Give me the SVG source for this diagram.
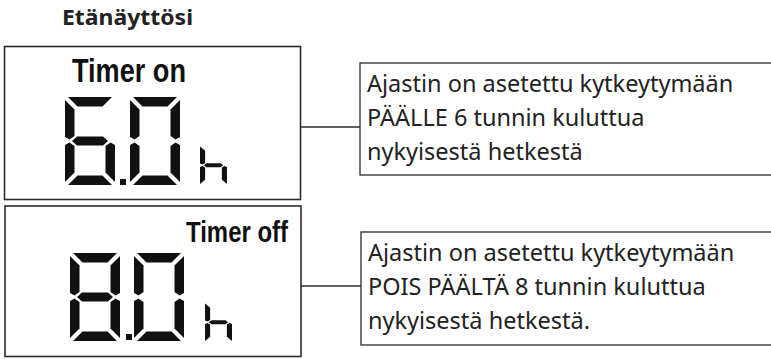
<svg xmlns="http://www.w3.org/2000/svg" xmlns:xlink="http://www.w3.org/1999/xlink" width="771" height="359" viewBox="0 0 771 359">
<style>
.box{fill:#fff;stroke:#2b2b2b;stroke-width:1.6}
.tbox{fill:#fff;stroke:#3a3a3a;stroke-width:1.4}
.conn{stroke:#2b2b2b;stroke-width:1.4;fill:none}
.seg{fill:#111}
.desc{font-family:"Noto Sans","Open Sans",sans-serif;font-size:23.5px;fill:#222}
.title{font-family:"Noto Sans","DejaVu Sans",sans-serif;font-size:22px;font-weight:bold;fill:#222}
.lcd{font-family:"Liberation Sans Narrow","Liberation Sans",Arial,sans-serif;font-weight:bold;fill:#111}
</style>
<defs>
<polygon id="sa" points="3,0 47,0 37.5,9.5 12.5,9.5"/>
<polygon id="sb" points="50,3 50,40 45.5,42.5 40.5,39 40.5,12.5"/>
<polygon id="sc" points="50,48 50,85 40.5,75.5 40.5,49 45.5,45.5"/>
<polygon id="sd" points="3,88 12.5,78.5 37.5,78.5 47,88"/>
<polygon id="se" points="0,48 4.5,45.5 9.5,49 9.5,75.5 0,85"/>
<polygon id="sf" points="0,3 9.5,12.5 9.5,39 4.5,42.5 0,40"/>
<polygon id="sg" points="7,44 12,39.5 38,39.5 43,44 38,48.5 12,48.5"/>
<g id="d0"><use href="#sa"/><use href="#sb"/><use href="#sc"/><use href="#sd"/><use href="#se"/><use href="#sf"/></g>
<g id="d6"><use href="#sa"/><use href="#sc"/><use href="#sd"/><use href="#se"/><use href="#sf"/><use href="#sg"/></g>
<g id="d8"><use href="#sa"/><use href="#sb"/><use href="#sc"/><use href="#sd"/><use href="#se"/><use href="#sf"/><use href="#sg"/></g>
<g id="dh"><use href="#sc"/><use href="#se"/><use href="#sf"/><use href="#sg"/></g>
</defs>

<text class="title" x="62" y="25" textLength="131" lengthAdjust="spacingAndGlyphs">Etänäyttösi</text>

<g id="connectors">
<line class="conn" x1="300" y1="127" x2="360" y2="127"/>
<line class="conn" x1="301" y1="286" x2="361" y2="286"/>
</g>

<g id="display-on">
<rect class="box" x="4.5" y="46.5" width="296" height="153"/>
<text class="lcd" x="72" y="82" font-size="34" textLength="114" lengthAdjust="spacingAndGlyphs">Timer on</text>
<g class="seg">
<use href="#d6" transform="translate(65,97)"/>
<rect x="120" y="179" width="6" height="6"/>
<use href="#d0" transform="translate(130,97)"/>
<use href="#dh" transform="translate(200,145) scale(0.54,0.46)"/>
</g>
</g>

<g id="display-off">
<rect class="box" x="5" y="206" width="296" height="150.5"/>
<text class="lcd" x="186" y="242" font-size="30" textLength="102" lengthAdjust="spacingAndGlyphs">Timer off</text>
<g class="seg">
<use href="#d8" transform="translate(70,253)"/>
<rect x="126" y="334" width="6" height="6"/>
<use href="#d0" transform="translate(134,253)"/>
<use href="#dh" transform="translate(205,302) scale(0.54,0.46)"/>
</g>
</g>

<g id="desc-on">
<rect class="tbox" x="360" y="63" width="430" height="112"/>
<text class="desc" x="367" y="92">Ajastin on asetettu kytkeytymään</text>
<text class="desc" x="367" y="126">PÄÄLLE 6 tunnin kuluttua</text>
<text class="desc" x="367" y="160">nykyisestä hetkestä</text>
</g>

<g id="desc-off">
<rect class="tbox" x="361" y="232" width="430" height="113"/>
<text class="desc" x="368" y="261">Ajastin on asetettu kytkeytymään</text>
<text class="desc" x="368" y="295">POIS PÄÄLTÄ 8 tunnin kuluttua</text>
<text class="desc" x="368" y="329">nykyisestä hetkestä.</text>
</g>
</svg>
